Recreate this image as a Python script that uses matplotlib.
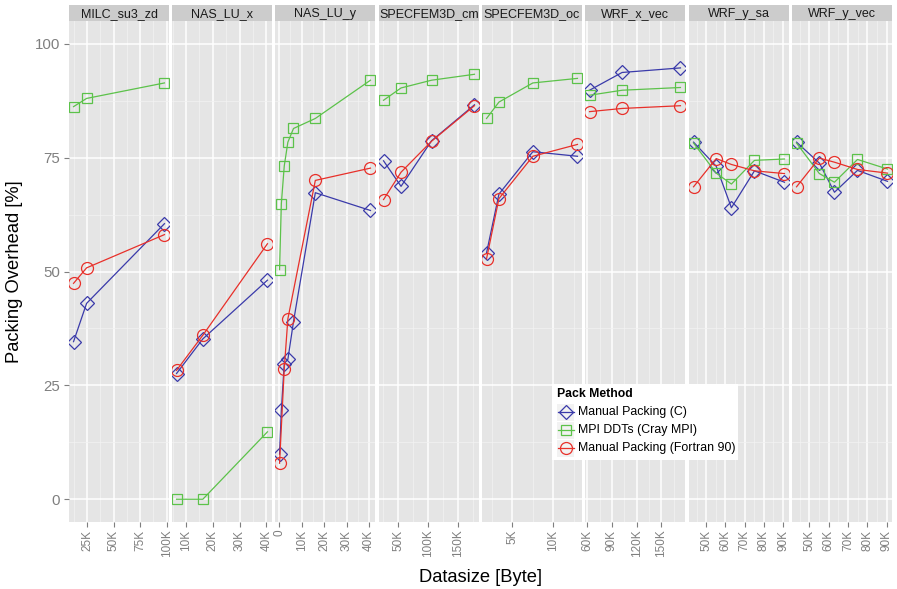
import numpy as np
import matplotlib
matplotlib.use("Agg")
import matplotlib.pyplot as plt
from matplotlib.patches import Rectangle

plt.rcParams["font.family"] = ["Liberation Sans", "DejaVu Sans"]

# data (x in KByte, y in %)
panels = ["MILC_su3_zd", "NAS_LU_x", "NAS_LU_y", "SPECFEM3D_cm",
          "SPECFEM3D_oc", "WRF_x_vec", "WRF_y_sa", "WRF_y_vec"]

sizes_kb = [
    [12.3, 24.6, 98.0],
    [6.5, 16.3, 40.4],
    [0.2, 1.0, 2.3, 3.9, 6.4, 16.1, 40.6],
    [25.8, 55.0, 105.9, 177.5],
    [1.9, 3.4, 7.5, 12.9],
    [62.8, 102.4, 173.4],
    [43.4, 55.2, 63.1, 75.1, 90.7],
    [43.4, 55.2, 63.0, 74.9, 90.4],
]

manual_c = [
    [34.6, 43.0, 60.5],
    [27.6, 35.2, 48.1],
    [9.9, 19.5, 29.8, 30.7, 39.0, 67.3, 63.4],
    [74.3, 68.7, 78.7, 86.6],
    [54.1, 67.0, 76.3, 75.3],
    [89.8, 93.7, 94.7],
    [78.4, 73.1, 64.0, 72.1, 69.6],
    [78.4, 73.8, 67.4, 72.2, 69.8],
]

mpi_ddt = [
    [86.2, 88.0, 91.4],
    [0.0, 0.0, 14.8],
    [50.4, 64.9, 73.2, 78.4, 81.4, 83.6, 92.0],
    [87.6, 90.3, 92.0, 93.3],
    [83.6, 87.2, 91.4, 92.4],
    [88.7, 89.8, 90.4],
    [78.2, 71.6, 69.2, 74.4, 74.7],
    [78.2, 71.5, 69.6, 74.6, 72.5],
]

nan = np.nan
manual_f90 = [
    [47.4, 50.8, 58.1],
    [28.3, 36.0, 56.1],
    [7.9, nan, 28.7, 39.6, nan, 70.0, 72.7],
    [65.8, 71.8, 78.6, 86.4],
    [52.8, 66.0, 75.3, 77.9],
    [85.1, 85.8, 86.4],
    [68.6, 74.8, 73.5, 72.1, 71.5],
    [68.6, 74.9, 74.0, 72.4, 71.6],
]

x_ticks = [[25, 50, 75, 100], [10, 20, 30, 40], [0, 10, 20, 30, 40],
           [50, 100, 150], [5, 10], [60, 90, 120, 150],
           [50, 60, 70, 80, 90], [50, 60, 70, 80, 90]]
y_ticks = [0, 25, 50, 75, 100]

series_names = ["Manual Packing (C)", "MPI DDTs (Cray MPI)", "Manual Packing (Fortran 90)"]
colors = ["#3A3AAA", "#5CC24A", "#E8302A"]
markers = ["D", "s", "o"]
msizes = [7.1, 7.7, 8.6]

W, H = 897, 589
fig = plt.figure(figsize=(W / 100, H / 100), dpi=100)


def px_rect(x0, y0, x1, y1):
    return [x0 / W, 1 - y1 / H, (x1 - x0) / W, (y1 - y0) / H]


panel_left = [69, 172, 275, 379, 482, 585, 689, 792]
panel_w = 100
top, bottom = 21, 522

for i, name in enumerate(panels):
    x0 = panel_left[i]
    ax = fig.add_axes(px_rect(x0, top, x0 + panel_w, bottom))
    ax.set_facecolor("#E5E5E5")
    for s in ax.spines.values():
        s.set_visible(False)

    xs = np.array(sizes_kb[i])
    all_y = [manual_c[i], mpi_ddt[i], manual_f90[i]]
    span = xs.max() - xs.min()
    ax.set_ylim(-5, 105)

    # grid
    t = x_ticks[i]
    step = t[1] - t[0]
    minors = [t[0] - step / 2] + [v + step / 2 for v in t]
    ax.set_xticks(t)
    ax.set_xticks(minors, minor=True)
    ax.set_yticks(y_ticks)
    ax.set_yticks([12.5, 37.5, 62.5, 87.5], minor=True)
    ax.grid(which="major", color="white", lw=1.1)
    ax.grid(which="minor", color="#F2F2F2", lw=0.55)
    ax.set_axisbelow(True)
    ax.set_xlim(xs.min() - 0.05 * span, xs.max() + 0.05 * span)

    ax.set_xticklabels(["0" if v == 0 else f"{v}K" for v in t], rotation=90,
                       fontsize=8.5, color="#7F7F7F")
    ax.tick_params(axis="x", which="major", length=3.5, color="#7F7F7F", pad=2)
    ax.tick_params(which="minor", length=0)
    if i == 0:
        ax.set_yticklabels([str(v) for v in y_ticks], fontsize=10.8, color="#7F7F7F")
        ax.tick_params(axis="y", which="major", length=3.5, color="#7F7F7F", pad=3)
    else:
        ax.tick_params(axis="y", which="major", length=0, labelleft=False)

    for k in range(3):
        ys = np.array(all_y[k], dtype=float)
        ok = ~np.isnan(ys)
        ax.plot(xs[ok], ys[ok], color=colors[k], lw=0.9, marker=markers[k],
                ms=msizes[k], mfc="none", mec=colors[k], mew=0.9)

    # facet strip
    sx = fig.add_axes(px_rect(x0, 5, x0 + panel_w, top))
    sx.set_facecolor("#CCCCCC")
    sx.set_xticks([])
    sx.set_yticks([])
    for s in sx.spines.values():
        s.set_visible(False)
    sx.text(0.5, 0.45, name, ha="center", va="center", fontsize=9,
            color="#1A1A1A", transform=sx.transAxes)

fig.text(480.5 / W, 1 - 577 / H, "Datasize [Byte]", ha="center", va="center",
         fontsize=13.2, color="black")
fig.text(15 / W, 1 - 272 / H, "Packing Overhead [%]", ha="center", va="center",
         rotation=90, fontsize=13.2, color="black")

# legend box, drawn by hand in pixel units
lg = fig.add_axes(px_rect(552, 384, 738, 460))
lg.set_xlim(552, 738)
lg.set_ylim(460, 384)
lg.set_facecolor("white")
lg.set_xticks([])
lg.set_yticks([])
for s in lg.spines.values():
    s.set_visible(False)
lg.text(557, 394, "Pack Method", fontsize=8.8, fontweight="bold",
        ha="left", va="center", color="black")
key_y = [412.3, 430.0, 448.3]
for k in range(3):
    lg.add_patch(Rectangle((557, key_y[k] - 8.5), 17, 17, facecolor="#F2F2F2",
                           edgecolor="none"))
    lg.plot([557.5, 573.5], [key_y[k], key_y[k]], color=colors[k], lw=0.9)
    lg.plot([565.5], [key_y[k]], marker=markers[k], ms=msizes[k], mfc="none",
            mec=colors[k], mew=0.9)
    lg.text(577.5, key_y[k], series_names[k], fontsize=8.9, ha="left",
            va="center", color="black")

fig.savefig("out.png", dpi=100)
